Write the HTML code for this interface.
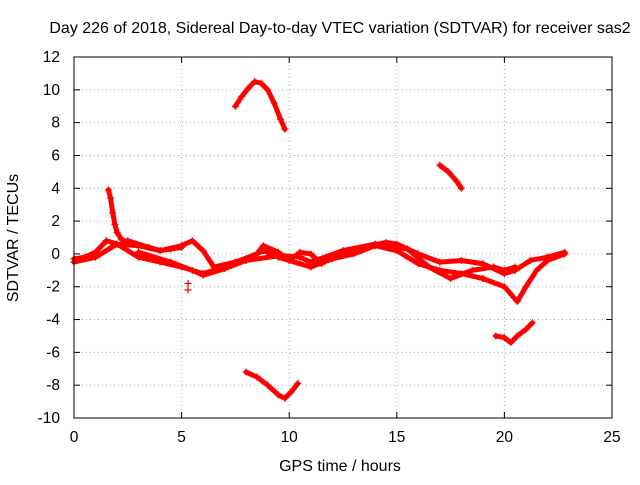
<!DOCTYPE html>
<html><head><meta charset="utf-8"><style>
body{margin:0;background:#fff;}
svg text{font-family:"Liberation Sans",sans-serif;fill:#000;}
</style></head><body>
<svg id="chart" width="640" height="480" xmlns="http://www.w3.org/2000/svg">
<rect width="640" height="480" fill="#fff"/>
<text x="340" y="33" font-size="16" text-anchor="middle">Day 226 of 2018, Sidereal Day-to-day VTEC variation (SDTVAR) for receiver sas2</text>
<text x="340" y="471" font-size="16" text-anchor="middle">GPS time / hours</text>
<text transform="translate(18,238) rotate(-90)" font-size="16" text-anchor="middle">SDTVAR / TECUs</text>
<g id="grid"></g><g id="ticks"></g><g id="marks"></g>
<rect x="74" y="57" width="538" height="361" fill="none" stroke="#000" stroke-width="1"/>
</svg>
<script>
const xTicks=[0,5,10,15,20,25];
const yTicks=[-10,-8,-6,-4,-2,0,2,4,6,8,10,12];
const trackTopArc=[[7.5,9.0],[7.8,9.6],[8.1,10.1],[8.4,10.5],[8.7,10.4],[9.0,10.0],[9.3,9.2],[9.6,8.2],[9.8,7.6]];
const trackBottomArc=[[8.0,-7.2],[8.5,-7.5],[9.0,-8.0],[9.5,-8.6],[9.8,-8.8],[10.1,-8.4],[10.4,-7.9]];
const trackUpperRight=[[17.0,5.4],[17.4,5.0],[17.8,4.4],[18.0,4.0]];
const trackLowerRight=[[19.6,-5.0],[20.0,-5.1],[20.3,-5.4],[20.6,-5.0],[21.0,-4.6],[21.3,-4.2]];
const trackSpike=[[1.6,3.9],[1.7,3.4],[1.8,2.5],[1.9,1.8],[2.0,1.3],[2.2,0.9],[2.5,0.7]];
const trackA=[[0,-0.3],[0.5,-0.2],[1.0,0.1],[1.5,0.8],[2.0,0.6],[3.0,0.5],[4.0,0.2],[4.5,0.3],[5.0,0.4]];
const trackB=[[0,-0.5],[1.0,-0.2],[2.0,0.6],[3.0,-0.2],[4.0,-0.5],[5.0,-0.8],[6.0,-1.2],[7.0,-0.8],[8.0,-0.3],[8.8,0.2],[9.5,-0.2],[10.0,-0.4],[11.0,-0.8],[12.0,-0.3],[13.0,0.0],[14.0,0.5],[15.0,0.2],[16.0,-0.6],[17.0,-1.0],[18.0,-1.2],[19.0,-1.5],[20.0,-2.0],[20.6,-2.9],[21.0,-2.0],[21.5,-1.0],[22.0,-0.4],[22.8,0.0]];
const trackC=[[2.5,0.8],[3.5,0.4],[4.0,0.2],[5.0,0.5],[5.5,0.8],[6.0,0.2],[6.5,-0.8],[7.5,-0.5],[8.5,0.0],[8.8,0.5],[9.5,0.1],[10.0,-0.4],[10.5,0.1],[11.0,0.0],[11.5,-0.6],[12.0,-0.2],[13.0,0.3],[14.5,0.7],[15.0,0.6],[16.0,0.0],[17.0,-0.5],[18.0,-0.4],[19.0,-0.6],[20.0,-1.2],[20.5,-1.0],[21.2,-0.4],[22.0,-0.2],[22.8,0.1]];
const trackD=[[3.0,0.1],[4.5,-0.5],[5.5,-1.0],[6.0,-1.3],[7.0,-0.9],[8.0,-0.4],[9.6,-0.1],[10.5,-0.2],[11.0,-0.5],[12.5,0.2],[14.0,0.6],[15.5,0.3],[16.5,-0.8],[17.5,-1.5],[18.5,-1.0],[19.5,-0.8],[20.0,-1.0],[20.5,-0.8]];
const outliers=[[5.3,-2.2],[5.3,-1.8]];
const tracks=[trackTopArc,trackBottomArc,trackUpperRight,trackLowerRight,trackSpike,trackA,trackB,trackC,trackD];
const NS="http://www.w3.org/2000/svg";
const X0=74,X1=612,Y0=418,Y1=57,xmin=0,xmax=25,ymin=-10,ymax=12;
function sx(v){return X0+(v-xmin)/(xmax-xmin)*(X1-X0);}
function sy(v){return Y0-(v-ymin)/(ymax-ymin)*(Y0-Y1);}
function mk(t,a,p){const e=document.createElementNS(NS,t);for(const k in a)e.setAttribute(k,a[k]);p.appendChild(e);return e;}
const grid=document.getElementById('grid'),ticks=document.getElementById('ticks'),marks=document.getElementById('marks');
xTicks.forEach(v=>{const x=sx(v);
 if(v>xmin&&v<xmax){const g=mk('line',{x1:x,x2:x,y1:Y1,y2:Y0,stroke:'#aaa','stroke-dasharray':'1,3'},grid);
 
 }
 mk('line',{x1:x,x2:x,y1:Y0,y2:Y0-6,stroke:'#000'},ticks);mk('line',{x1:x,x2:x,y1:Y1,y2:Y1+6,stroke:'#000'},ticks);
 const t=mk('text',{x:x,y:Y0+24,'font-size':15.5,'text-anchor':'middle'},ticks);t.textContent=v;
 
 });
yTicks.forEach(v=>{const y=sy(v);
 if(v>ymin&&v<ymax){const g=mk('line',{x1:X0,x2:X1,y1:y,y2:y,stroke:'#aaa','stroke-dasharray':'1,3'},grid);
 
 }
 mk('line',{x1:X0,x2:X0+6,y1:y,y2:y,stroke:'#000'},ticks);mk('line',{x1:X1,x2:X1-6,y1:y,y2:y,stroke:'#000'},ticks);
 const t=mk('text',{x:X0-14,y:y+5,'font-size':15.5,'text-anchor':'end'},ticks);t.textContent=v;
 
 });
function plus(x,y){const p=mk('path',{d:`M${x-3.5},${y}h7M${x},${y-3.5}v7`,stroke:'#f00','stroke-width':1.2,fill:'none'},marks);
 
 }
tracks.forEach(tr=>{const pl=mk('polyline',{points:tr.map(p=>sx(p[0])+','+sy(p[1])).join(' '),fill:'none',stroke:'#f00','stroke-width':5,'stroke-linejoin':'round','stroke-linecap':'round'},marks);
 
 
 tr.forEach(p=>plus(sx(p[0]),sy(p[1])));});
outliers.forEach(p=>plus(sx(p[0]),sy(p[1])));
</script>
</body></html>
